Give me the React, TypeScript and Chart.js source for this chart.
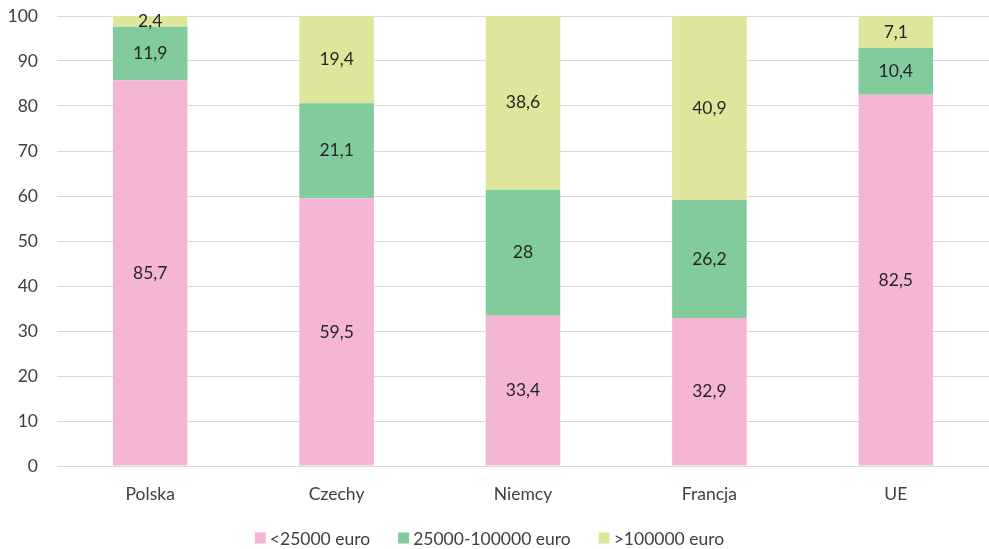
import React, { useEffect, useRef } from "react";
import { Chart, registerables } from "chart.js";

Chart.register(...registerables);

const categories = ["Polska", "Czechy", "Niemcy", "Francja", "UE"];
const seriesLow = [85.7, 59.5, 33.4, 32.9, 82.5];
const seriesMid = [11.9, 21.1, 28, 26.2, 10.4];
const seriesHigh = [2.4, 19.4, 38.6, 40.9, 7.1];
const seriesNames = ["<25000 euro", "25000-100000 euro", ">100000 euro"];
const seriesColors = ["#F5B6D6", "#82CB9C", "#DDE69A"];
const yTicks = [0, 10, 20, 30, 40, 50, 60, 70, 80, 90, 100];

const FONT = "Lato, 'Open Sans', sans-serif";
const FSIZE = 17.5;
const LEGEND_SPACE = 40;
const TOP = 16;

const labelPlugin = {
  id: "segLabels",
  afterDatasetsDraw(chart: any) {
    const ctx = chart.ctx;
    ctx.save();
    ctx.font = `${FSIZE}px ${FONT}`;
    ctx.fillStyle = "#262626";
    ctx.textAlign = "center";
    ctx.textBaseline = "middle";
    chart.data.datasets.forEach((ds: any, di: number) => {
      const meta = chart.getDatasetMeta(di);
      meta.data.forEach((bar: any, i: number) => {
        const v = ds.data[i];
        const y = (bar.y + bar.base) / 2;
        ctx.fillText(String(v).replace(".", ","), bar.x, y);
      });
    });
    ctx.restore();
  },
};

const legendPlugin = {
  id: "customLegend",
  afterDraw(chart: any) {
    const ctx = chart.ctx;
    ctx.save();
    ctx.font = `${FSIZE}px ${FONT}`;
    ctx.textBaseline = "middle";
    ctx.textAlign = "left";
    const box = 11;
    const gap = 4;
    const between = 28;
    const items = chart.data.datasets.map((ds: any) => ({
      label: ds.label,
      color: ds.backgroundColor,
      w: ctx.measureText(ds.label).width,
    }));
    const total =
      items.reduce((s: number, it: any) => s + box + gap + it.w, 0) +
      between * (items.length - 1);
    let x = 489.5 - total / 2;
    const y = 538;
    items.forEach((it: any) => {
      ctx.fillStyle = it.color;
      ctx.fillRect(x, y - box / 2, box, box);
      ctx.fillStyle = "#404040";
      ctx.fillText(it.label, x + box + gap, y + 1);
      x += box + gap + it.w + between;
    });
    ctx.restore();
  },
};

export default function App() {
  const ref = useRef<HTMLCanvasElement | null>(null);
  useEffect(() => {
    document.body.style.margin = "0";
    const chart = new Chart(ref.current!, {
      type: "bar",
      data: {
        labels: categories,
        datasets: [
          { label: seriesNames[0], data: seriesLow, backgroundColor: seriesColors[0] },
          { label: seriesNames[1], data: seriesMid, backgroundColor: seriesColors[1] },
          { label: seriesNames[2], data: seriesHigh, backgroundColor: seriesColors[2] },
        ],
      },
      options: {
        animation: false,
        responsive: false,
        layout: { padding: { top: TOP, right: 0, left: 0, bottom: LEGEND_SPACE } },
        datasets: { bar: { categoryPercentage: 0.4, barPercentage: 1 } },
        plugins: {
          legend: { display: false },
          tooltip: { enabled: false },
        },
        scales: {
          x: {
            stacked: true,
            grid: { display: false },
            border: { color: "#D9D9D9" },
            ticks: { font: { family: FONT, size: FSIZE }, color: "#404040", padding: 10 },
            afterFit(scale: any) {
              scale.height = 549 - LEGEND_SPACE - 466;
              scale.paddingLeft = 0;
              scale.paddingRight = 0;
            },
          },
          y: {
            stacked: true,
            min: 0,
            max: 100,
            afterBuildTicks(scale: any) {
              scale.ticks = yTicks.map((v) => ({ value: v }));
            },
            grid: { color: "#D9D9D9", drawTicks: false },
            border: { display: false },
            ticks: { font: { family: FONT, size: FSIZE }, color: "#404040", padding: 19 },
            afterFit(scale: any) {
              scale.width = 57;
              scale.paddingTop = 0;
              scale.paddingBottom = 0;
            },
          },
        },
      },
      plugins: [labelPlugin, legendPlugin],
    });
    return () => chart.destroy();
  }, []);
  return (
    <div style={{ width: 989, height: 549 }}>
      <canvas ref={ref} width={989} height={549} style={{ display: "block" }} />
    </div>
  );
}
